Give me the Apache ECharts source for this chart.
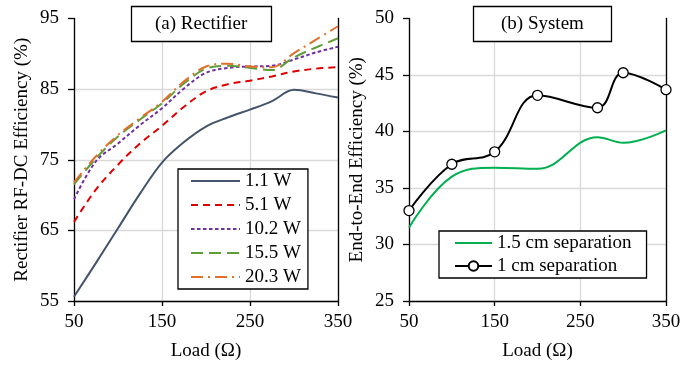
<!DOCTYPE html>
<html>
<head>
<meta charset="utf-8">
<script src="https://cdn.jsdelivr.net/npm/echarts@6/dist/echarts.min.js"></script>
<style>
html,body{margin:0;padding:0;background:#fff;}
#c{width:697px;height:366px;}
</style>
</head>
<body>
<div id="c"></div>
<script>
// ---- data ----
var loadA = [50, 75, 100, 125, 150, 175, 200, 225, 250, 275, 300, 325, 350];
var p1_1  = [55.6, 60.4, 65.3, 70.2, 74.6, 77.5, 79.7, 81.0, 82.1, 83.3, 84.9, 84.4, 83.8];
var p5_1  = [66.2, 70.8, 74.3, 77.3, 79.8, 82.5, 84.7, 85.7, 86.2, 86.8, 87.5, 87.9, 88.1];
var p10_2 = [69.4, 74.8, 77.3, 79.9, 82.3, 85.1, 87.3, 88.0, 88.2, 88.3, 89.2, 90.2, 91.0];
var p15_5 = [71.5, 75.2, 78.3, 80.7, 83.0, 85.8, 87.9, 88.3, 88.0, 87.7, 89.5, 90.9, 92.2];
var p20_3 = [71.8, 75.5, 78.5, 80.9, 83.2, 86.1, 88.2, 88.6, 88.2, 88.1, 90.1, 92.0, 93.9];
var namesA = ['1.1 W', '5.1 W', '10.2 W', '15.5 W', '20.3 W'];

var loadB = [50, 100, 150, 200, 270, 300, 350];
var sep15 = [31.5, 36.0, 36.8, 36.7, 39.5, 39.0, 40.1];
var sep10 = [33.0, 37.1, 38.2, 43.2, 42.1, 45.2, 43.7];
var namesB = ['1.5 cm separation', '1 cm separation'];

var titleA = '(a) Rectifier';
var titleB = '(b) System';
var xName = 'Load (\u03A9)';
var yNameA = 'Rectifier RF-DC Efficiency (%)';
var yNameB = 'End-to-End Efficiency (%)';

function pairs(xs, ys) { return xs.map(function (x, i) { return [x, ys[i]]; }); }

var FONT = 'Liberation Serif';
var txt = { fontFamily: FONT, fontSize: 19, color: '#000' };

function xAxisCfg(gi) {
  return {
    type: 'value', gridIndex: gi, min: 50, max: 350, interval: 100,
    name: xName, nameLocation: 'middle', nameGap: 41,
    nameTextStyle: txt,
    axisLine: { show: true, onZero: false, lineStyle: { color: '#000', width: 1.3 } },
    axisTick: { show: true, length: 5, lineStyle: { color: '#000', width: 1.3 } },
    axisLabel: Object.assign({ margin: 12 }, txt),
    splitLine: { show: true, lineStyle: { color: '#D9D9D9', width: 1.3 } }
  };
}
function yAxisCfg(gi, min, max, interval, name) {
  return {
    type: 'value', gridIndex: gi, min: min, max: max, interval: interval,
    name: name, nameLocation: 'middle', nameGap: 42,
    nameTextStyle: txt,
    axisLine: { show: true, onZero: false, lineStyle: { color: '#000', width: 1.3 } },
    axisTick: { show: true, length: 6, lineStyle: { color: '#000', width: 1.3 } },
    axisLabel: Object.assign({ margin: 15 }, txt),
    splitLine: { show: true, showMaxLine: false, lineStyle: { color: '#D9D9D9', width: 1.3 } }
  };
}
function borderAxis(gi) {
  return {
    type: 'value', gridIndex: gi, position: 'right', min: 0, max: 1,
    axisLine: { show: true, onZero: false, lineStyle: { color: '#000', width: 1.3 } },
    axisTick: { show: false }, axisLabel: { show: false }, splitLine: { show: false }
  };
}

function lineA(name, ys, color, type) {
  return {
    name: name, type: 'line', xAxisIndex: 0, yAxisIndex: 0,
    data: pairs(loadA, ys), smooth: 0.35, symbol: 'none',
    lineStyle: { color: color, width: 2, type: type },
    itemStyle: { color: color }
  };
}

var option = {
  animation: false,
  backgroundColor: '#fff',
  title: [
    { text: titleA, left: 131, top: 6, padding: [9, 24, 8, 24],
      borderColor: '#000', borderWidth: 1.3, backgroundColor: '#fff',
      textStyle: { fontFamily: FONT, fontSize: 19, fontWeight: 'normal', color: '#000' } },
    { text: titleB, left: 473, top: 6, padding: [9, 28, 8, 28],
      borderColor: '#000', borderWidth: 1.3, backgroundColor: '#fff',
      textStyle: { fontFamily: FONT, fontSize: 19, fontWeight: 'normal', color: '#000' } }
  ],
  grid: [
    { left: 74, right: 359, top: 18.5, bottom: 64.5 },
    { left: 409, right: 31, top: 18.5, bottom: 64.5 }
  ],
  xAxis: [xAxisCfg(0), xAxisCfg(1)],
  yAxis: [
    yAxisCfg(0, 55, 95, 10, yNameA),
    borderAxis(0),
    yAxisCfg(1, 25, 50, 5, yNameB),
    borderAxis(1)
  ],
  legend: [
    { data: namesA.map(function (n) { return { name: n, itemStyle: { opacity: 0 } }; }),
      orient: 'vertical', left: 178, top: 169,
      padding: [2, 7, 2, 12], itemGap: 4, itemWidth: 49, itemHeight: 10,
      borderColor: '#000', borderWidth: 1.3, backgroundColor: '#fff',
      textStyle: { fontFamily: FONT, fontSize: 19, color: '#000', lineHeight: 20 } },
    { data: [{ name: namesB[0], itemStyle: { opacity: 0 } }, { name: namesB[1] }],
      orient: 'vertical', left: 439, top: 231,
      padding: [2, 15, 2, 15], itemGap: 3, itemWidth: 37, itemHeight: 12,
      borderColor: '#000', borderWidth: 1.3, backgroundColor: '#fff',
      textStyle: { fontFamily: FONT, fontSize: 19, color: '#000', lineHeight: 20 } }
  ],
  series: [
    lineA(namesA[0], p1_1, '#44546A', 'solid'),
    lineA(namesA[1], p5_1, '#E00000', [7, 5]),
    lineA(namesA[2], p10_2, '#7030A0', [3.5, 2.5]),
    lineA(namesA[3], p15_5, '#5E9E3A', [12, 6]),
    lineA(namesA[4], p20_3, '#E0702A', [12, 5, 2, 5]),
    { name: namesB[0], type: 'line', xAxisIndex: 1, yAxisIndex: 2,
      data: pairs(loadB, sep15), smooth: 0.4, symbol: 'none',
      lineStyle: { color: '#00B050', width: 2 }, itemStyle: { color: '#00B050' } },
    { name: namesB[1], type: 'line', xAxisIndex: 1, yAxisIndex: 2,
      data: pairs(loadB, sep10), smooth: 0.4, symbol: 'circle', symbolSize: 10,
      lineStyle: { color: '#000', width: 2 },
      itemStyle: { color: '#fff', borderColor: '#000', borderWidth: 1.3 } }
  ]
};

var chart = echarts.init(document.getElementById('c'), null, { renderer: 'canvas' });
chart.setOption(option);
</script>
</body>
</html>
